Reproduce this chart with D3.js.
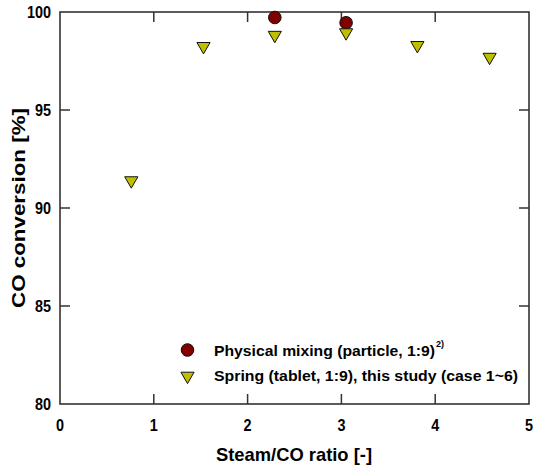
<!DOCTYPE html>
<html><head><meta charset="utf-8">
<script src="https://cdn.jsdelivr.net/npm/d3@7"></script>
<style>body{margin:0;background:#fff}text{font-family:"Liberation Sans",Arial,sans-serif;font-weight:bold;fill:#000}</style>
</head><body><svg id="c" width="534" height="467"></svg>
<script>
const xTicks = [0,1,2,3,4,5];
const yTicks = [80,85,90,95,100];
const physX = [2.29, 3.05];
const physY = [99.72, 99.45];
const springX = [0.76, 1.53, 2.29, 3.05, 3.81, 4.58];
const springY = [91.4, 98.25, 98.82, 98.95, 98.3, 97.7];
const legendLabels = ["Physical mixing (particle, 1:9)", "Spring (tablet, 1:9), this study (case 1~6)"];

const svg = d3.select("#c");
const L=60,R=529,T=12,B=404;
const x = d3.scaleLinear().domain([0,5]).range([L,R]);
const y = d3.scaleLinear().domain([80,100]).range([B,T]);
const ax="#333";
svg.append("rect").attr("x",L).attr("y",T).attr("width",R-L).attr("height",B-T).attr("fill","none").attr("stroke",ax).attr("stroke-width",1.6);
const tl=10;
xTicks.slice(1,-1).forEach(t=>{
  svg.append("line").attr("x1",x(t)).attr("x2",x(t)).attr("y1",B).attr("y2",B-tl).attr("stroke",ax).attr("stroke-width",1.5);
  svg.append("line").attr("x1",x(t)).attr("x2",x(t)).attr("y1",T).attr("y2",T+tl).attr("stroke",ax).attr("stroke-width",1.5);
});
yTicks.slice(1,-1).forEach(t=>{
  svg.append("line").attr("x1",L).attr("x2",L+tl).attr("y1",y(t)).attr("y2",y(t)).attr("stroke",ax).attr("stroke-width",1.5);
  svg.append("line").attr("x1",R).attr("x2",R-tl).attr("y1",y(t)).attr("y2",y(t)).attr("stroke",ax).attr("stroke-width",1.5);
});
function sx(g,cx,cy,s){return `translate(${cx},${cy}) scale(${s},1)`;}
xTicks.forEach(t=>svg.append("text").attr("transform",sx(null,x(t),431,0.9)).attr("text-anchor","middle").attr("font-size",16).text(t));
yTicks.forEach(t=>svg.append("text").attr("transform",sx(null,L-9,y(t)+6,0.9)).attr("text-anchor","end").attr("font-size",16).text(t));
svg.append("text").attr("x",294).attr("y",461).attr("text-anchor","middle").attr("font-size",19).attr("textLength",156).attr("lengthAdjust","spacingAndGlyphs").text("Steam/CO ratio [-]");
svg.append("text").attr("transform","translate(25,208) rotate(-90)").attr("text-anchor","middle").attr("font-size",18).attr("textLength",200).attr("lengthAdjust","spacingAndGlyphs").text("CO conversion [%]");

const tri = d3.symbol().type(d3.symbolTriangle).size(75);
const red="#800000", yel="#bfbf00";
physX.forEach((v,i)=>svg.append("circle").attr("cx",x(v)).attr("cy",y(physY[i])).attr("r",6.3).attr("fill",red).attr("stroke","#111").attr("stroke-width",1));
springX.forEach((v,i)=>svg.append("path").attr("d",tri).attr("transform",`translate(${x(v)},${y(springY[i])}) rotate(180)`).attr("fill",yel).attr("stroke","#111").attr("stroke-width",1));

svg.append("circle").attr("cx",187.5).attr("cy",350).attr("r",6.3).attr("fill",red).attr("stroke","#111");
svg.append("path").attr("d",tri).attr("transform","translate(187.5,376) rotate(180)").attr("fill",yel).attr("stroke","#111");
svg.append("text").attr("x",214).attr("y",356).attr("font-size",15).attr("textLength",221).attr("lengthAdjust","spacingAndGlyphs").text(legendLabels[0]);
svg.append("text").attr("x",436).attr("y",347).attr("font-size",9).text("2)");
svg.append("text").attr("x",214).attr("y",381).attr("font-size",15).attr("textLength",304).attr("lengthAdjust","spacingAndGlyphs").text(legendLabels[1]);
</script></body></html>
